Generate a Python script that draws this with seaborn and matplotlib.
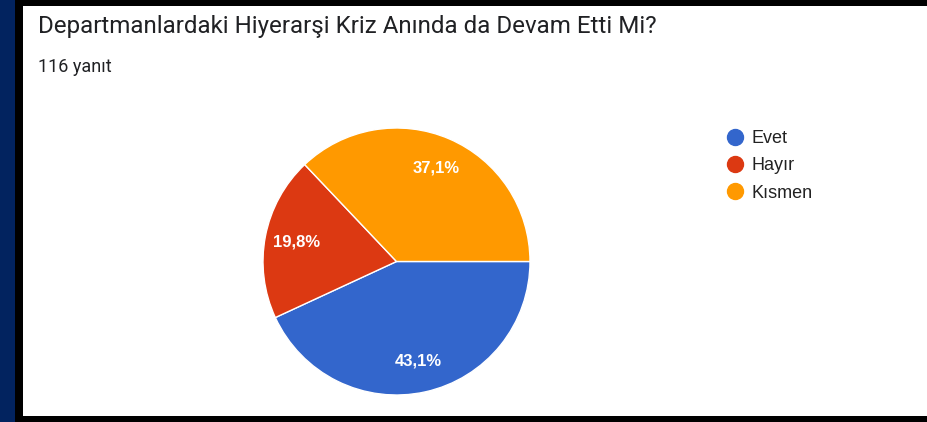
import seaborn as sns
import matplotlib.pyplot as plt
from matplotlib.patches import Rectangle
from matplotlib.lines import Line2D

# Survey answers (116 responses)
categories = ['Evet', 'Hayır', 'Kısmen']
counts = [50, 23, 43]
title = 'Departmanlardaki Hiyerarşi Kriz Anında da Devam Etti Mi?'
subtitle = '116 yanıt'

sns.set_theme(style='white')
plt.rcParams['font.family'] = ['Liberation Sans', 'DejaVu Sans']

# Google chart colours
palette = sns.color_palette(['#3366CC', '#DC3912', '#FF9900'])

W, H = 927, 422
fig = plt.figure(figsize=(W / 100, H / 100), dpi=100, facecolor='black')

# navy strip on the left and the white card
fig.patches.append(Rectangle((0, 0), 15 / W, 1, transform=fig.transFigure,
                             facecolor='#02235F', edgecolor='none', zorder=-10))
fig.patches.append(Rectangle((23 / W, 6 / H), 1, (416 - 6) / H, transform=fig.transFigure,
                             facecolor='white', edgecolor='none', zorder=-10))

fig.text(38 / W, 1 - 27 / H, title, fontsize=17.4, color='#202124',
         family='Roboto', va='center', ha='left')
fig.text(38 / W, 1 - 67 / H, subtitle, fontsize=13, color='#202124',
         family='Roboto', va='center', ha='left')

# pie axes: centre (396.5, 261.5), radius 133.5 px
cx, cy, r = 396.5, 261.5, 133.5
ax = fig.add_axes([(cx - r) / W, 1 - (cy + r) / H, 2 * r / W, 2 * r / H])
ax.set_facecolor('none')

wedges, texts, autotexts = ax.pie(
    counts, colors=palette, startangle=0, counterclock=False,
    autopct=lambda p: f'{p:.1f}%'.replace('.', ','), pctdistance=0.76,
    wedgeprops=dict(edgecolor='white', linewidth=1),
    textprops=dict(color='white', fontsize=12, fontweight='bold'))
ax.set_xlim(-1, 1)
ax.set_ylim(-1, 1)
ax.set_aspect('auto')
ax.axis('off')

handles = [Line2D([], [], marker='o', linestyle='none', markersize=11.5,
                  markerfacecolor=c, markeredgecolor=c) for c in palette]
fig.legend(handles, categories, loc='upper left', bbox_to_anchor=(724 / W, 1 - 130 / H),
           frameon=False, fontsize=13, labelcolor='#222222', handletextpad=0.34,
           labelspacing=0.57, handlelength=1.2, borderpad=0, borderaxespad=0)

fig.savefig('out.png', dpi=100, facecolor='black')
